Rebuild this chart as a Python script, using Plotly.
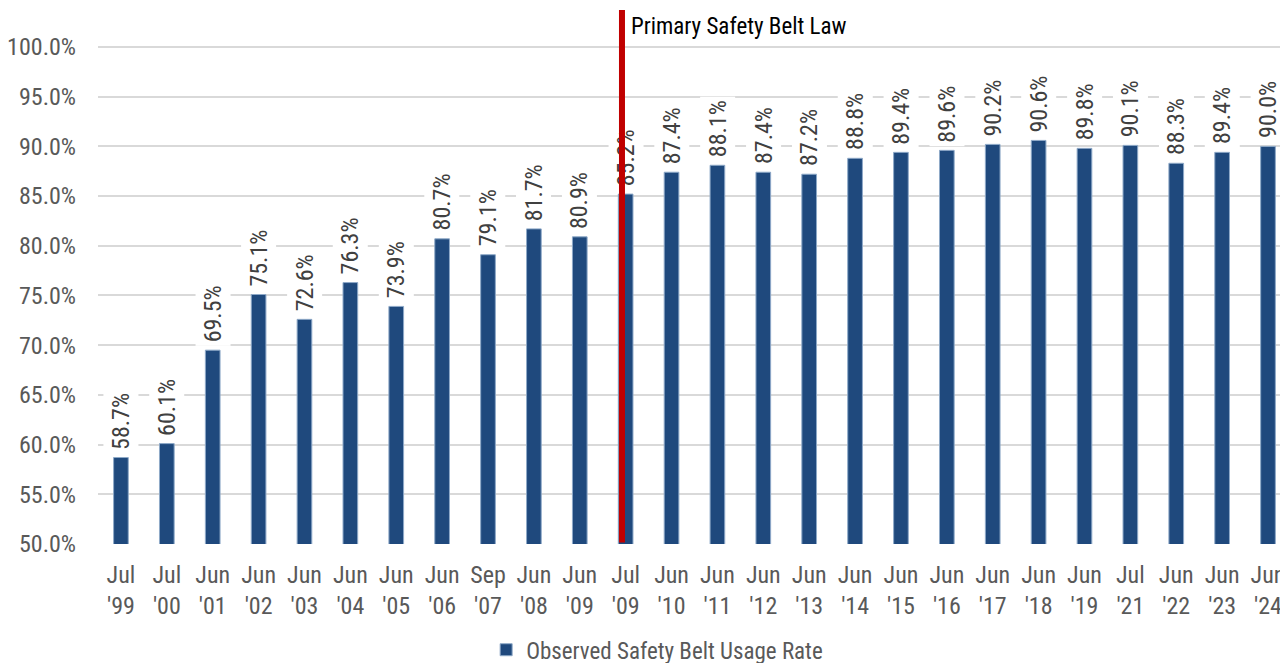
import plotly.graph_objects as go

periods = ["Jul<br>'99", "Jul<br>'00", "Jun<br>'01", "Jun<br>'02", "Jun<br>'03", "Jun<br>'04",
           "Jun<br>'05", "Jun<br>'06", "Sep<br>'07", "Jun<br>'08", "Jun<br>'09", "Jul<br>'09",
           "Jun<br>'10", "Jun<br>'11", "Jun<br>'12", "Jun<br>'13", "Jun<br>'14", "Jun<br>'15",
           "Jun<br>'16", "Jun<br>'17", "Jun<br>'18", "Jun<br>'19", "Jul<br>'21", "Jun<br>'22",
           "Jun<br>'23", "Jun<br>'24"]
usage_rate = [58.7, 60.1, 69.5, 75.1, 72.6, 76.3, 73.9, 80.7, 79.1, 81.7, 80.9, 85.2,
              87.4, 88.1, 87.4, 87.2, 88.8, 89.4, 89.6, 90.2, 90.6, 89.8, 90.1, 88.3,
              89.4, 90.0]
series_name = "Observed Safety Belt Usage Rate"
law_label = "Primary Safety Belt Law"
law_position = 10.92  # between Jun '09 and Jul '09

FONT = "Liberation Sans Narrow, Arial Narrow, Roboto Condensed, Liberation Sans, sans-serif"
idx = list(range(len(periods)))

fig = go.Figure()
fig.add_trace(go.Bar(
    x=idx, y=usage_rate, name=series_name, width=0.32,
    marker=dict(color="#1F497D", line=dict(color="#8EA9C8", width=1)),
    showlegend=True,
))

annotations = []
for i, v in zip(idx, usage_rate):
    annotations.append(dict(
        x=i, y=v, xref="x", yref="y", text=f"{v:.1f}%", showarrow=False,
        textangle=-90, xanchor="center", yanchor="bottom", yshift=4,
        bgcolor="white", borderpad=3,
        font=dict(family=FONT, size=24, color="#404040"),
    ))
annotations.append(dict(
    x=law_position, y=103.72, ax=law_position, ay=50, xref="x", yref="y",
    axref="x", ayref="y", text="", showarrow=True, arrowhead=0,
    arrowwidth=6, arrowcolor="#C00000", standoff=0, startstandoff=0,
))
annotations.append(dict(
    x=0.443, y=0.970, xref="paper", yref="paper", text=law_label,
    showarrow=False, xanchor="left", yanchor="middle",
    font=dict(family=FONT, size=23, color="#000000"),
))

fig.update_layout(
    width=1288, height=663,
    margin=dict(l=90, r=0, t=2, b=127, autoexpand=False),
    plot_bgcolor="white", paper_bgcolor="white",
    font=dict(family=FONT, size=24, color="#595959"),
    annotations=annotations,
    showlegend=True,
    legend=dict(orientation="h", xref="container", yref="container",
                x=0.504, xanchor="center", y=0.032, yanchor="middle",
                font=dict(family=FONT, size=23, color="#595959")),
    xaxis=dict(tickmode="array", tickvals=idx, ticktext=periods,
               range=[-0.5, 25.61], showgrid=False, showline=False, zeroline=False,
               ticks="", ticklabelstandoff=14, automargin=False,
               tickfont=dict(family=FONT, size=24, color="#595959")),
    yaxis=dict(range=[50, 103.72], tick0=50, dtick=5, tickformat=".1f", ticksuffix="%",
               showgrid=True, gridcolor="#D9D9D9", gridwidth=2, zeroline=False,
               showline=False, ticks="", ticklabelstandoff=21, automargin=False,
               tickfont=dict(family=FONT, size=24, color="#595959")),
    bargap=0.68,
)
fig.write_html("out.html")
